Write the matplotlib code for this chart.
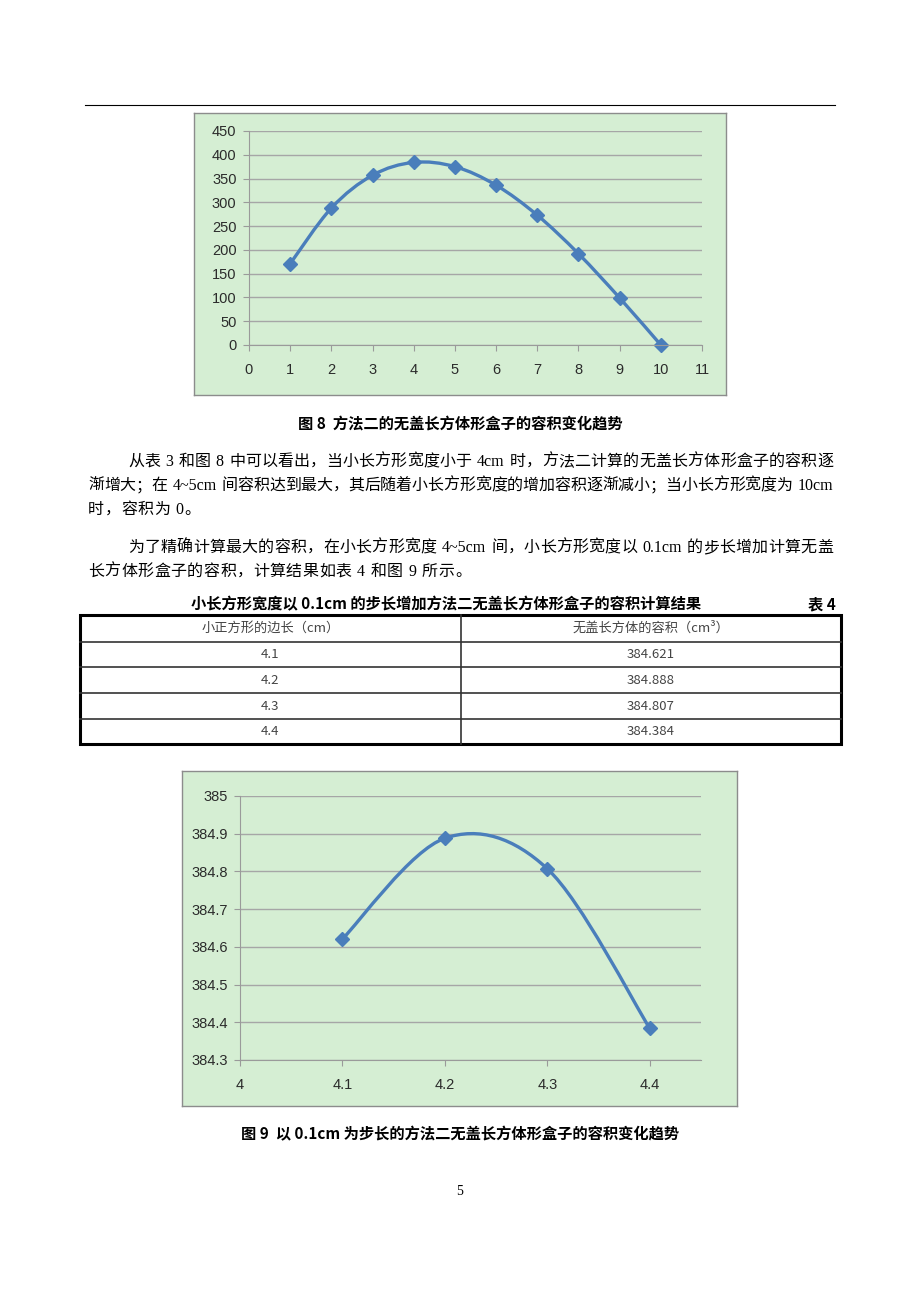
import re
import numpy as np
import matplotlib
matplotlib.use('Agg')
import matplotlib.pyplot as plt
from matplotlib.path import Path
from matplotlib.patches import PathPatch, Rectangle

W, H = 920, 1302

# chart data (fig 8)
side1 = [1, 2, 3, 4, 5, 6, 7, 8, 9, 10]
vol1 = [171, 288, 357, 384, 375, 336, 273, 192, 99, 0]
xticks1 = list(range(0, 12))
yticks1 = list(range(0, 451, 50))

# table 4 / fig 9
side2 = [4.1, 4.2, 4.3, 4.4]
vol2 = [384.621, 384.888, 384.807, 384.384]
xticks2 = [4, 4.1, 4.2, 4.3, 4.4]
xlabels2 = ['4', '4.1', '4.2', '4.3', '4.4']
yticks2 = [384.3, 384.4, 384.5, 384.6, 384.7, 384.8, 384.9, 385.0]
ylabels2 = ['384.3', '384.4', '384.5', '384.6', '384.7', '384.8', '384.9', '385']

table_head = ['小正方形的边长（cm）', '无盖长方体的容积（cm³）']

cap1 = '图 8  方法二的无盖长方体形盒子的容积变化趋势'
cap2 = '图 9  以 0.1cm 为步长的方法二无盖长方体形盒子的容积变化趋势'
table_title = '小长方形宽度以 0.1cm 的步长增加方法二无盖长方体形盒子的容积计算结果'
body = [
    ('从表 3 和图 8 中可以看出，当小长方形宽度小于 4cm 时，方法二计算的无盖长方体形盒子的容积逐', True),
    ('渐增大；在 4~5cm 间容积达到最大，其后随着小长方形宽度的增加容积逐渐减小；当小长方形宽度为 10cm', True),
    ('时，容积为 0。', False),
    ('为了精确计算最大的容积，在小长方形宽度 4~5cm 间，小长方形宽度以 0.1cm 的步长增加计算无盖', True),
    ('长方体形盒子的容积，计算结果如表 4 和图 9 所示。', False),
]
body_x0 = [128, 88, 88, 128, 88]
body_y = [460, 484, 508, 546, 570]

blue = '#4a7ebb'
green = '#d5eed3'
gridc = '#a6a6a6'
serif = ['Liberation Serif', 'Noto Sans CJK SC']
hei = ['Noto Sans CJK SC', 'DejaVu Sans']

fig = plt.figure(figsize=(9.2, 13.02), dpi=100)
page = fig.add_axes([0, 0, 1, 1])
page.set_xlim(0, W)
page.set_ylim(H, 0)
page.axis('off')
renderer = fig.canvas.get_renderer()


def rect(x0, y0, x1, y1):
    return [x0 / W, 1 - y1 / H, (x1 - x0) / W, (y1 - y0) / H]


def smooth_path(xs, ys):
    # Excel-style smoothed line: cubic Bezier through every point
    pts = list(zip(xs, ys))
    n = len(pts)
    verts = [pts[0]]
    codes = [Path.MOVETO]
    for i in range(n - 1):
        p0 = pts[i - 1] if i > 0 else pts[i]
        p1, p2 = pts[i], pts[i + 1]
        p3 = pts[i + 2] if i + 2 < n else pts[i + 1]
        c1 = (p1[0] + (p2[0] - p0[0]) / 6, p1[1] + (p2[1] - p0[1]) / 6)
        c2 = (p2[0] - (p3[0] - p1[0]) / 6, p2[1] - (p3[1] - p1[1]) / 6)
        verts += [c1, c2, p2]
        codes += [Path.CURVE4] * 3
    return Path(verts, codes)


def chart(frame, box, xs, ys, xlim, ylim, xt, xl, yt, yl):
    fr = fig.add_axes(rect(*frame))
    fr.set_facecolor(green)
    fr.set_xticks([])
    fr.set_yticks([])
    for s in fr.spines.values():
        s.set_color('#8c8c8c')
        s.set_linewidth(1)
    ax = fig.add_axes(rect(*box))
    ax.patch.set_alpha(0)
    ax.set_xlim(*xlim)
    ax.set_ylim(*ylim)
    ax.set_xticks(xt, xl)
    ax.set_yticks(yt, yl)
    ax.grid(axis='y', color=gridc, lw=1)
    ax.set_axisbelow(True)
    for s in ['top', 'right']:
        ax.spines[s].set_visible(False)
    for s in ['left', 'bottom']:
        ax.spines[s].set_color('#9a9a9a')
    ax.tick_params(axis='both', direction='out', length=4, color='#9a9a9a',
                   labelcolor='#2b2b2b', labelsize=10.5)
    ax.tick_params(axis='x', pad=9)
    ax.tick_params(axis='y', pad=5)
    for lab in ax.get_xticklabels() + ax.get_yticklabels():
        lab.set_fontfamily('Liberation Sans')
    ax.add_patch(PathPatch(smooth_path(xs, ys), facecolor='none',
                           edgecolor=blue, lw=2.4, clip_on=False))
    ax.plot(xs, ys, 'D', ms=7, color=blue, clip_on=False)
    return ax


chart((194, 113, 726, 395), (249, 131, 702, 345), side1, vol1,
      (0, 11), (0, 450), xticks1, [str(v) for v in xticks1],
      yticks1, [str(v) for v in yticks1])
chart((182, 771, 737, 1106), (240, 796, 701, 1060), side2, vol2,
      (4, 4.45), (384.3, 385.0), xticks2, xlabels2, yticks2, ylabels2)

# header rule
page.plot([85, 835], [105, 105], color='black', lw=0.8)


def is_latin(t):
    return re.match(r'[A-Za-z0-9.~]', t) is not None


def is_punct(t):
    return t in '，。；;、'


def put_line(x0, x1, y, s, justify, **kw):
    toks = re.findall(r'[A-Za-z0-9.~]+|\S', s)
    ts = [page.text(0, y, t, va='baseline', ha='left', **kw) for t in toks]
    ws = [t.get_window_extent(renderer).width for t in ts]
    # extra room between latin runs and CJK characters
    pads = [5 if ((is_latin(a) or is_latin(b)) and not (is_punct(a) or is_punct(b))) else 0
            for a, b in zip(toks[:-1], toks[1:])]
    if justify:
        gap = (x1 - x0 - sum(ws) - sum(pads)) / (len(ts) - 1)
    else:
        gap = 0.5
    x = x0
    for i, (t, w) in enumerate(zip(ts, ws)):
        t.set_x(x)
        if i < len(pads):
            x += w + gap + pads[i]


for s, x0, y in zip(body, body_x0, body_y):
    put_line(x0, 833, y + 6, s[0], s[1], family=serif, fontsize=11.5, color='black')

page.text(460, 429, cap1, ha='center', va='baseline', family=hei,
          fontsize=11, fontweight='bold')
page.text(446, 609, table_title, ha='center', va='baseline', family=hei,
          fontsize=11, fontweight='bold')
page.text(836, 609, '表 4', ha='right', va='baseline', family=hei,
          fontsize=11, fontweight='bold')
page.text(460, 1139, cap2, ha='center', va='baseline', family=hei,
          fontsize=11, fontweight='bold')
page.text(460, 1195, '5', ha='center', va='baseline', family=serif, fontsize=10)

# table 4
tx0, tx1, tmid = 80, 841, 461
rows = [615, 642, 667, 693, 719, 744]
for y in rows[1:-1]:
    page.plot([tx0, tx1], [y, y], color='#333333', lw=1.2)
page.plot([tmid, tmid], [rows[0], rows[-1]], color='#333333', lw=1.2)
page.add_patch(Rectangle((tx0, rows[0]), tx1 - tx0, rows[-1] - rows[0],
                         fill=False, edgecolor='black', lw=2.2))
cells = [table_head] + [[f'{a:.1f}', f'{b:.3f}'] for a, b in zip(side2, vol2)]
for i, row in enumerate(cells):
    yc = (rows[i] + rows[i + 1]) / 2
    for txt, xc in zip(row, [(tx0 + tmid) / 2, (tmid + tx1) / 2]):
        page.text(xc, yc, txt, ha='center', va='center', family=hei,
                  fontsize=9.5, color='#444444', fontweight='light')

fig.savefig('out.png', dpi=100)
